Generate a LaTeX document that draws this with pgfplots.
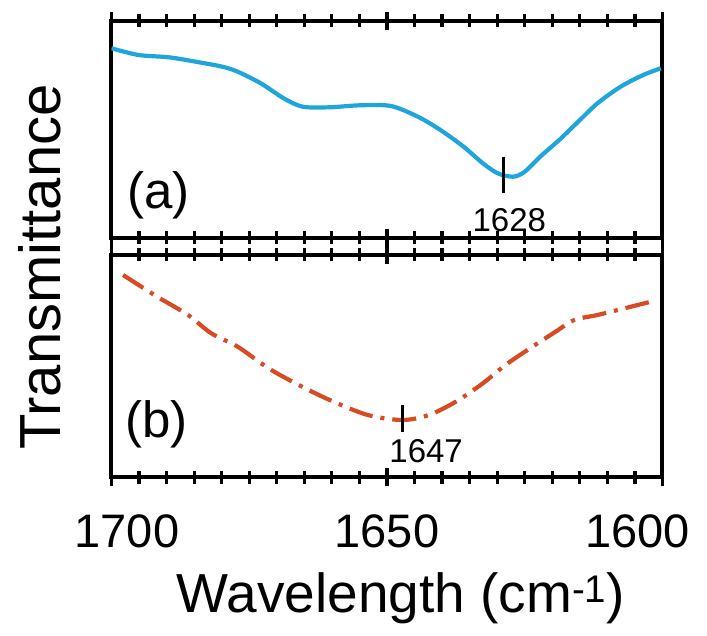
\documentclass[border=0pt]{standalone}
\usepackage{pgfplots}
\pgfplotsset{compat=1.18}
\usepackage{fontspec}
\setmainfont{Liberation Sans}
\definecolor{cblue}{RGB}{30,165,220}
\definecolor{cred}{RGB}{215,75,35}
\begin{document}
\begin{tikzpicture}[x=1pt,y=1pt]
\useasboundingbox (0,0) rectangle (707,635);
\pgfplotsset{panel/.style={
  scale only axis, width=551pt, xmin=1600, xmax=1700,
  x dir=reverse,
  ytick=\empty,
  xtick={1600,1650,1700},
  minor xtick={1605,1610,1615,1620,1625,1630,1635,1640,1645,1655,1660,1665,1670,1675,1680,1685,1690,1695},
  xtick pos=both,
  tick align=center, major tick length=18pt, minor tick length=13pt,
  axis line style={line width=4pt, black},
  every tick/.style={line width=3.2pt, black},
  clip=true,
}}
% (a)
\begin{axis}[panel, at={(111.5pt,397pt)}, anchor=south west, height=217.3pt,
  ymin=-238, ymax=-20.7, xticklabels={}]
\addplot[cblue, line width=4.2pt, smooth, tension=0.5] coordinates {
(1700,-48.3) (1695.1,-55) (1689.6,-57.3) (1684.7,-61.7) (1679.9,-66.7)
(1677.1,-71.7) (1672.9,-83.3) (1668.75,-98.3) (1665.3,-106.7) (1660.4,-107.3)
(1654.9,-105.3) (1649.3,-106) (1644.4,-116.7) (1640.3,-130) (1636.1,-146.7)
(1632.6,-163.3) (1629.9,-173.3) (1627.1,-176.7) (1625,-171.7) (1622.2,-156.7)
(1618.75,-140) (1615.3,-121.7) (1611.8,-103.3) (1607.6,-86.7) (1603.5,-75)
(1600.3,-68.3)};
\addplot[black, line width=3.2pt] coordinates {(1628.8,-156.7) (1628.8,-193.3)};
\node[font=\fontsize{33}{33}\selectfont, inner sep=0pt] at (axis cs:1627.8,-220) {1628};
\node[font=\fontsize{51}{51}\selectfont, inner sep=0pt] at (axis cs:1691.5,-195) {(a)};
\end{axis}
% (b)
\begin{axis}[panel, at={(111.5pt,158pt)}, anchor=south west, height=222pt,
  ymin=-477, ymax=-255,
  xticklabels={1600\hspace*{50pt},1650,\hspace*{31pt}1700},
  xticklabel style={font=\fontsize{47}{47}\selectfont, anchor=north, inner sep=0pt, yshift=-28pt}]
\addplot[cred, line width=4.2pt, smooth, tension=0.5, dash pattern=on 24pt off 8pt on 4pt off 8pt] coordinates {
(1697.9,-275) (1691.7,-296.7) (1686.1,-315) (1681.9,-333.3) (1677.1,-346.7)
(1671.5,-368.3) (1666.0,-385) (1660.4,-400) (1653.5,-415) (1647.2,-420)
(1642.4,-415) (1637.5,-401.7) (1632.6,-383.3) (1628.5,-365) (1623.6,-346.7)
(1619.4,-331.7) (1616.0,-320) (1611.8,-315) (1606.9,-308.3) (1602.1,-301.7)};
\addplot[black, line width=3.2pt] coordinates {(1647.2,-405) (1647.2,-431.7)};
\node[font=\fontsize{33}{33}\selectfont, inner sep=0pt] at (axis cs:1642.9,-451.5) {1647};
\node[font=\fontsize{51}{51}\selectfont, inner sep=0pt] at (axis cs:1691.8,-424) {(b)};
\end{axis}
\node[rotate=90, anchor=base, font=\fontsize{58}{58}\selectfont, inner sep=0pt] at (60,368) {Transmittance};
\node[anchor=base, font=\fontsize{55}{55}\selectfont, inner sep=0pt] at (401,23) {Wavelength (cm\textsuperscript{-1})};
\end{tikzpicture}
\end{document}
